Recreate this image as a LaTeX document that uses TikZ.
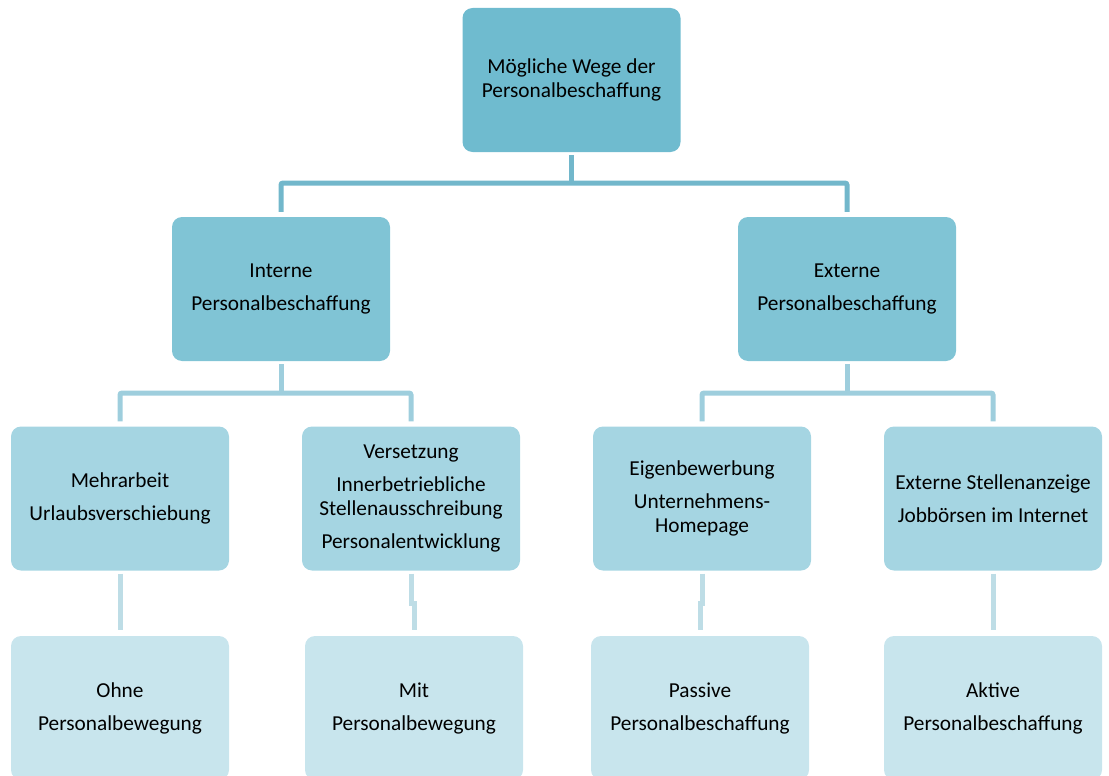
\documentclass[tikz,border=0pt]{standalone}
\usepackage{fontspec}
\setmainfont{Carlito}
\usetikzlibrary{calc}
\definecolor{fillA}{HTML}{6FBBCF}
\definecolor{fillB}{HTML}{80C4D5}
\definecolor{fillC}{HTML}{A5D5E2}
\definecolor{fillD}{HTML}{C8E5ED}
\definecolor{lineA}{HTML}{72B7CB}
\definecolor{lineB}{HTML}{9ECEDD}
\definecolor{lineC}{HTML}{BEDDE6}

\begin{document}
\begin{tikzpicture}[x=1pt, y=1pt,
  box/.style={rounded corners=10pt, minimum width=218pt, minimum height=144pt,
              inner sep=0pt, align=center, font=\fontsize{21.3}{23.5}\selectfont},
  boxA/.style={box, fill=fillA},
  boxB/.style={box, fill=fillB},
  boxC/.style={box, fill=fillC},
  boxD/.style={box, fill=fillD},
  lnkA/.style={draw=lineA, line width=5pt, rounded corners=2pt},
  lnkB/.style={draw=lineB, line width=5pt, rounded corners=2pt},
  lnkC/.style={draw=lineC, line width=5pt},
]
\useasboundingbox (0,0) rectangle (1109,-776);
\node[boxA] (wege) at (571.5,-80) {Mögliche Wege der\\Personalbeschaffung};
\node[boxB] (int) at (281,-289) {Interne\\[9.5pt]Personalbeschaffung};
\node[boxB] (ext) at (847,-289) {Externe\\[9.5pt]Personalbeschaffung};
\node[boxC] (mehr) at (120,-498.5) {Mehrarbeit\\[9.5pt]Urlaubsverschiebung};
\node[boxC] (vers) at (411,-498.5) {Versetzung\\[9.5pt]Innerbetriebliche\\Stellenausschreibung\\[9.5pt]Personalentwicklung};
\node[boxC] (eigen) at (702,-498.5) {Eigenbewerbung\\[9.5pt]Unternehmens-\\Homepage};
\node[boxC] (jobs) at (993,-498.5) {Externe Stellenanzeige\\[9.5pt]Jobbörsen im Internet};
\node[boxD] (ohne) at (120,-708) {Ohne\\[9.5pt]Personalbewegung};
\node[boxD] (mit) at (414,-708) {Mit\\[9.5pt]Personalbewegung};
\node[boxD] (passiv) at (700,-708) {Passive\\[9.5pt]Personalbeschaffung};
\node[boxD] (aktiv) at (993,-708) {Aktive\\[9.5pt]Personalbeschaffung};

\coordinate (barA) at (0,-183);
\coordinate (barB) at (0,-393);
\draw[lnkA] ([yshift=-3]wege.south) -- (wege.south |- barA);
\draw[lnkA] ([yshift=5]int.north) |- (ext.north |- barA) -- ([yshift=5]ext.north);
\draw[lnkB] ([yshift=-3]int.south) -- (int.south |- barB);
\draw[lnkB] ([yshift=5]mehr.north) |- (vers.north |- barB) -- ([yshift=5]vers.north);
\draw[lnkB] ([yshift=-3]ext.south) -- (ext.south |- barB);
\draw[lnkB] ([yshift=5]eigen.north) |- (jobs.north |- barB) -- ([yshift=5]jobs.north);

\draw[lnkC] ([yshift=-3]mehr.south) -- ([yshift=6]ohne.north);
\draw[lnkC] ([yshift=-3]vers.south) |- ($(vers.south)!.5!(mit.north)$) -| ([yshift=6]mit.north);
\draw[lnkC] ([yshift=-3]eigen.south) |- ($(eigen.south)!.5!(passiv.north)$) -| ([yshift=6]passiv.north);
\draw[lnkC] ([yshift=-3]jobs.south) -- ([yshift=6]aktiv.north);
\end{tikzpicture}
\end{document}
